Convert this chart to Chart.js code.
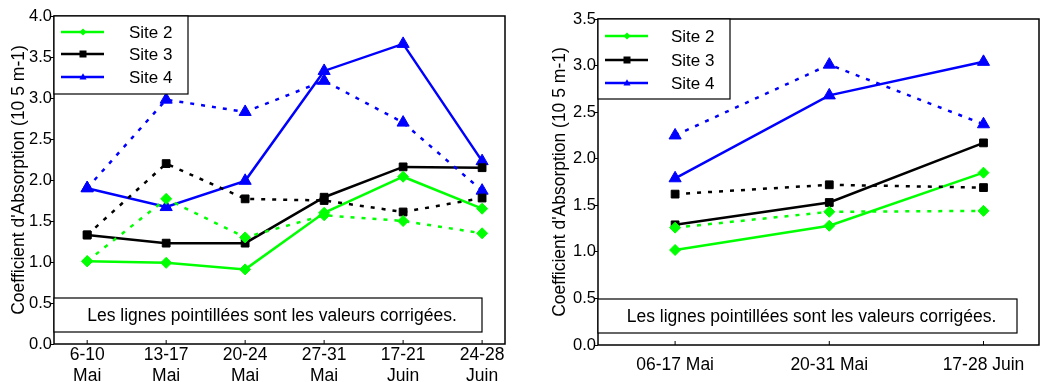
<!DOCTYPE html>
<html>
<head>
<meta charset="utf-8">
<script src="https://cdn.jsdelivr.net/npm/chart.js@4.4.1/dist/chart.umd.min.js"></script>
<style>
  body { margin: 0; background: #fff; }
  .wrap { position: absolute; top: 0; height: 382px; }
  #w1 { left: 0; width: 520px; }
  #w2 { left: 520px; width: 527px; }
</style>
</head>
<body>
<div class="wrap" id="w1"><canvas id="c1"></canvas></div>
<div class="wrap" id="w2"><canvas id="c2"></canvas></div>
<script>
// left chart: weekly periods
const leftLabels = [["6-10", "Mai"], ["13-17", "Mai"], ["20-24", "Mai"], ["27-31", "Mai"], ["17-21", "Juin"], ["24-28", "Juin"]]
const leftSite2 = [1.01, 0.99, 0.91, 1.60, 2.04, 1.65]
const leftSite3 = [1.33, 1.23, 1.23, 1.79, 2.16, 2.15]
const leftSite4 = [1.90, 1.67, 1.99, 3.33, 3.66, 2.23]
const leftSite2Corr = [1.01, 1.77, 1.30, 1.57, 1.50, 1.35]
const leftSite3Corr = [1.33, 2.20, 1.77, 1.75, 1.61, 1.78]
const leftSite4Corr = [1.90, 2.98, 2.83, 3.21, 2.70, 1.87]
const leftTicks = [0, 0.5, 1, 1.5, 2, 2.5, 3, 3.5, 4]

// right chart: grouped periods
const rightLabels = ["06-17 Mai", "20-31 Mai", "17-28 Juin"]
const rightSite2 = [1.02, 1.28, 1.85]
const rightSite3 = [1.29, 1.53, 2.17]
const rightSite4 = [1.79, 2.68, 3.04]
const rightSite2Corr = [1.26, 1.43, 1.44]
const rightSite3Corr = [1.62, 1.72, 1.69]
const rightSite4Corr = [2.25, 3.01, 2.37]
const rightTicks = [0, 0.5, 1, 1.5, 2, 2.5, 3, 3.5]

const legendNames = ["Site 2", "Site 3", "Site 4"]
const note = "Les lignes pointillées sont les valeurs corrigées."

const GREEN = "#00ff00"
const BLACK = "#000000"
const BLUE = "#0000ff"
const FONT = "'Liberation Sans', Arial, sans-serif"

const styles = [
    { color: GREEN, point: "rectRot", radius: 5.5 },
    { color: BLACK, point: "rect", radius: 5.5 },
    { color: BLUE, point: "triangle", radius: 7 }
]

function makeSet(values, st, dashed) {
    return {
        data: values.map((v, i) => ({ x: i, y: v })),
        borderColor: st.color,
        backgroundColor: st.color,
        borderWidth: 2.5,
        borderDash: dashed ? [4, 7] : [],
        pointStyle: st.point,
        pointRadius: st.radius,
        pointBorderWidth: 1,
        tension: 0
    }
}

function drawMarker(ctx, type, x, y, r) {
    ctx.beginPath()
    if (type === "rectRot") {
        ctx.moveTo(x, y - r); ctx.lineTo(x + r, y); ctx.lineTo(x, y + r); ctx.lineTo(x - r, y)
    } else if (type === "rect") {
        ctx.rect(x - r, y - r, 2 * r, 2 * r)
    } else {
        ctx.moveTo(x, y - r * 1.1); ctx.lineTo(x + r, y + r * 0.7); ctx.lineTo(x - r, y + r * 0.7)
    }
    ctx.closePath()
    ctx.fill()
}

// frame, inner ticks, legend box and note box
function decorPlugin(cfg) {
    return {
        id: "decor",
        afterDraw(chart) {
            const ctx = chart.ctx
            const a = chart.chartArea
            const xs = chart.scales.x
            ctx.save()
            ctx.strokeStyle = "#000"
            ctx.lineWidth = 1.5
            ctx.strokeRect(a.left, a.top, a.right - a.left, a.bottom - a.top)

            // inner x ticks
            ctx.lineWidth = 1
            cfg.labels.forEach((l, i) => {
                const px = xs.getPixelForValue(i)
                ctx.beginPath()
                ctx.moveTo(px, a.bottom)
                ctx.lineTo(px, a.bottom - 4)
                ctx.stroke()
            })

            // legend
            const lx = a.left, ly = a.top
            ctx.fillStyle = "#fff"
            ctx.fillRect(lx, ly, cfg.legW, cfg.legH)
            ctx.strokeStyle = "#000"
            ctx.lineWidth = 1.2
            ctx.strokeRect(lx, ly, cfg.legW, cfg.legH)
            ctx.font = "17px " + FONT
            ctx.textBaseline = "middle"
            legendNames.forEach((name, i) => {
                const y = ly + cfg.rows[i]
                const st = styles[i]
                ctx.strokeStyle = st.color
                ctx.fillStyle = st.color
                ctx.lineWidth = 2.5
                ctx.beginPath()
                ctx.moveTo(lx + 7, y)
                ctx.lineTo(lx + 50, y)
                ctx.stroke()
                drawMarker(ctx, st.point, lx + 29, y, 3.5)
                ctx.fillStyle = "#000"
                ctx.textAlign = "left"
                ctx.fillText(name, lx + cfg.textX, y + 1)
            })

            // note box
            const nx = a.left, nr = a.right - cfg.noteRight
            const ny = a.bottom - 46
            ctx.fillStyle = "#fff"
            ctx.fillRect(nx, ny, nr - nx, 34)
            ctx.strokeStyle = "#000"
            ctx.lineWidth = 1.2
            ctx.strokeRect(nx, ny, nr - nx, 34)
            ctx.fillStyle = "#000"
            ctx.font = "17.5px " + FONT
            ctx.textAlign = "center"
            ctx.fillText(note, (nx + nr) / 2 + 4, ny + 18)
            ctx.restore()
        }
    }
}

function buildChart(id, cfg) {
    const sets = [
        makeSet(cfg.s2c, styles[0], true),
        makeSet(cfg.s3c, styles[1], true),
        makeSet(cfg.s4c, styles[2], true),
        makeSet(cfg.s2, styles[0], false),
        makeSet(cfg.s3, styles[1], false),
        makeSet(cfg.s4, styles[2], false)
    ]
    return new Chart(document.getElementById(id), {
        type: "line",
        data: { datasets: sets },
        options: {
            responsive: true,
            maintainAspectRatio: false,
            animation: false,
            layout: { padding: { top: cfg.top, right: cfg.right, left: 0, bottom: 0 } },
            plugins: { legend: { display: false }, tooltip: { enabled: false } },
            scales: {
                x: {
                    type: "linear",
                    min: cfg.xmin,
                    max: cfg.xmax,
                    afterBuildTicks: s => { s.ticks = cfg.labels.map((l, i) => ({ value: i })) },
                    afterFit: s => { s.height = cfg.xh },
                    grid: { display: false, drawTicks: false },
                    border: { display: false },
                    ticks: {
                        color: "#000",
                        font: { family: FONT, size: 17.5, lineHeight: 1.2 },
                        padding: cfg.xpad,
                        maxRotation: 0,
                        autoSkip: false,
                        callback: v => cfg.labels[v]
                    }
                },
                y: {
                    min: 0,
                    max: cfg.ymax,
                    afterBuildTicks: s => { s.ticks = cfg.yticks.map(v => ({ value: v })) },
                    afterFit: s => { s.width = cfg.yw },
                    grid: { drawOnChartArea: false, tickLength: 4, color: "#000" },
                    border: { display: false },
                    title: {
                        display: true,
                        text: "Coefficient d'Absorption (10 5 m-1)",
                        color: "#000",
                        font: { family: FONT, size: 17.5 },
                        padding: { top: cfg.tpad, bottom: 0 }
                    },
                    ticks: {
                        color: "#000",
                        font: { family: FONT, size: 16.5 },
                        padding: -2,
                        callback: v => v.toFixed(1)
                    }
                }
            }
        },
        plugins: [decorPlugin(cfg)]
    })
}

buildChart("c1", {
    labels: leftLabels,
    s2: leftSite2, s3: leftSite3, s4: leftSite4,
    s2c: leftSite2Corr, s3c: leftSite3Corr, s4c: leftSite4Corr,
    yticks: leftTicks, ymax: 4,
    xmin: -0.42, xmax: 5.29,
    top: 16, right: 15, yw: 54, xh: 38, xpad: 1, tpad: 9,
    legW: 134, legH: 78, rows: [16, 38, 61], textX: 75, noteRight: 23
})

buildChart("c2", {
    labels: rightLabels,
    s2: rightSite2, s3: rightSite3, s4: rightSite4,
    s2c: rightSite2Corr, s3c: rightSite3Corr, s4c: rightSite4Corr,
    yticks: rightTicks, ymax: 3.5,
    xmin: -0.5, xmax: 2.36,
    top: 19, right: 1, yw: 78, xh: 37, xpad: 10, tpad: 30,
    legW: 132, legH: 80, rows: [17, 41, 64], textX: 73, noteRight: 22
})
</script>
</body>
</html>
